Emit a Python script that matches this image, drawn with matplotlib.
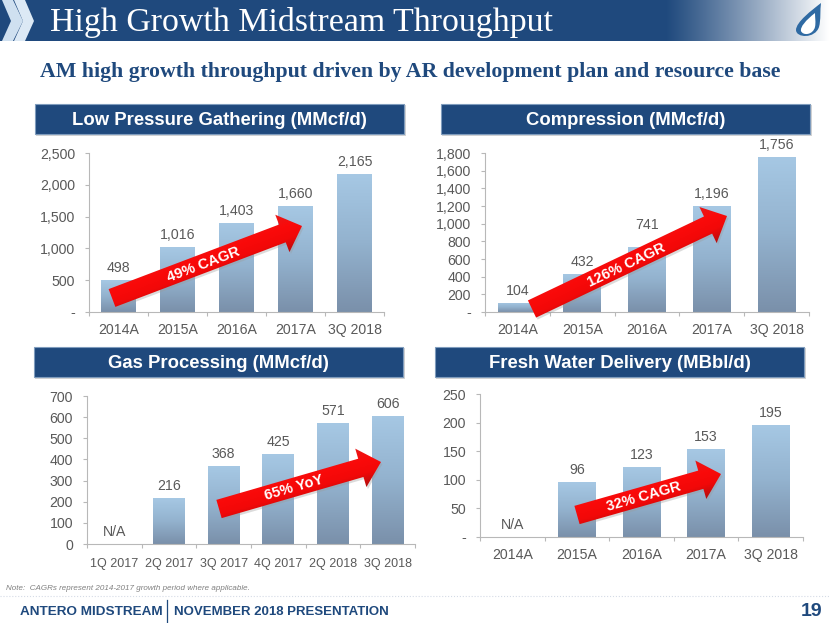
#slide with four small bar charts, header band, arrows and footer
import numpy as np
import matplotlib
matplotlib.use('Agg')
import matplotlib.pyplot as plt
from matplotlib.colors import LinearSegmentedColormap, to_rgb
from matplotlib.patches import Polygon, Rectangle, PathPatch
from matplotlib.path import Path

plt.rcParams['font.family'] = ['Liberation Sans', 'DejaVu Sans']

#the data, None means N/A
years = ['2014A', '2015A', '2016A', '2017A', '3Q 2018']
quarters = ['1Q 2017', '2Q 2017', '3Q 2017', '4Q 2017', '2Q 2018', '3Q 2018']
gathering = [498, 1016, 1403, 1660, 2165]
compression = [104, 432, 741, 1196, 1756]
processing = [None, 216, 368, 425, 571, 606]
fresh_water = [None, 96, 123, 153, 195]

gathering_ticks = [0, 500, 1000, 1500, 2000, 2500]
compression_ticks = [0, 200, 400, 600, 800, 1000, 1200, 1400, 1600, 1800]
processing_ticks = [0, 100, 200, 300, 400, 500, 600, 700]
water_ticks = [0, 50, 100, 150, 200, 250]

W, H = 830, 623
NAVY = '#1f497d'
GRAY = '#595959'
AXIS = '#b8b8b8'
bar_cmap = LinearSegmentedColormap.from_list('bar', ['#a6c8e4', '#93b2ce', '#7a90aa'])
red_cmap = LinearSegmentedColormap.from_list('red', ['#e81818', '#fa0a0a', '#f20808', '#b80d0d'])

fig = plt.figure(figsize=(W / 100, H / 100), dpi=100, facecolor='white')


def px_axes(left, top, right, bottom, z):
    return fig.add_axes([left / W, 1 - bottom / H, (right - left) / W, (bottom - top) / H], zorder=z)


#background layer in pixel coordinates, y goes down like in the picture
bg = px_axes(0, 0, W, H, 0)
bg.set_xlim(0, W)
bg.set_ylim(H, 0)
bg.axis('off')

#header band which fades to white on the right
fade = np.linspace(0, 1, 200) ** 1.1
navy = np.array(to_rgb(NAVY))
band = np.zeros((1, 200, 3))
for i in range(3):
    band[0, :, i] = navy[i] + (1 - navy[i]) * fade
bg.add_patch(Rectangle((0, 0), 665, 41, color=NAVY, lw=0))
bg.imshow(band, extent=(665, 828, 41, 0), aspect='auto')
bg.set_xlim(0, W)
bg.set_ylim(H, 0)

#chevrons on the left of the header
bg.add_patch(Polygon([(2, 0), (13, 0), (23, 21), (13, 41), (2, 41), (11, 21)], color='#cfe0f0', lw=0))
bg.add_patch(Polygon([(14, 0), (25, 0), (34, 21), (25, 41), (14, 41), (23, 21)], color='#dce9f5', lw=0))

#the flame logo
drop = [(821, 3), (812, 10), (796, 22), (796, 30), (796, 38), (815, 39), (819, 27), (821, 20), (820, 10), (821, 3)]
codes = [Path.MOVETO] + [Path.CURVE4] * 9
bg.add_patch(PathPatch(Path(drop, codes), fc='#2f6aa3', ec='none', zorder=2))
inner = [(815, 13), (806, 20), (800, 27), (801, 31), (803, 36), (813, 35), (815, 27), (816, 22), (815, 18), (815, 13)]
bg.add_patch(PathPatch(Path(inner, codes), fc='white', ec='none', zorder=3))

bg.text(50, 22, 'High Growth Midstream Throughput', color='white', fontsize=24.4,
        family=['Liberation Serif'], va='center', ha='left')
bg.text(40, 72, 'AM high growth throughput driven by AR development plan and resource base',
        color=NAVY, fontsize=15.7, fontweight='bold', family=['Liberation Serif'], va='center', ha='left')


def title_bar(x0, x1, y0, y1, label):
    bg.add_patch(Rectangle((x0 + 1, y0 + 1), x1 - x0 + 1, y1 - y0 + 1, color='#d4d4d4', lw=0))
    bg.add_patch(Rectangle((x0, y0), x1 - x0, y1 - y0, fc=NAVY, ec='#7f9cbd', lw=0.8))
    bg.text((x0 + x1) / 2, (y0 + y1) / 2 + 1.5, label, color='white', fontsize=13.3, fontweight='bold',
            va='center', ha='center')


title_bar(35, 404, 104, 134, 'Low Pressure Gathering (MMcf/d)')
title_bar(441, 810, 104, 134, 'Compression (MMcf/d)')
title_bar(34, 403, 347, 377, 'Gas Processing (MMcf/d)')
title_bar(435, 804, 347, 377, 'Fresh Water Delivery (MBbl/d)')

#footer
bg.text(6, 588, 'Note:  CAGRs represent 2014-2017 growth period where applicable.', color='#7f7f7f',
        fontsize=5.8, style='italic', va='center')
bg.plot([0, W], [596, 596], color='#d5dbe6', lw=0.8, ls=':')
bg.text(20, 612, 'ANTERO MIDSTREAM', color=NAVY, fontsize=9.7, fontweight='bold', va='center')
bg.plot([167, 167], [600, 622], color=NAVY, lw=0.9)
bg.text(174, 612, 'NOVEMBER 2018 PRESENTATION', color=NAVY, fontsize=9.5, fontweight='bold', va='center')
bg.text(822, 612, '19', color=NAVY, fontsize=14, fontweight='bold', va='center', ha='right')


def bar_chart(box, cats, values, ticks, xsize=10.2, xpad=8, bump=None):
    ax = px_axes(*box, 1)
    ax.patch.set_alpha(0)
    n = len(cats)
    heights = [0 if v is None else v for v in values]
    bars = ax.bar(range(n), heights, width=0.585, color='none', lw=0)
    ramp = np.linspace(0, 1, 128).reshape(-1, 1)
    for b in bars:
        if b.get_height() > 0:
            im = ax.imshow(ramp, cmap=bar_cmap, aspect='auto', vmin=0, vmax=1,
                           extent=(b.get_x(), b.get_x() + b.get_width(), 0, b.get_height()))
            im.set_clip_path(b)
    ax.set_xlim(-0.5, n - 0.5)
    ax.set_ylim(0, ticks[-1])

    #value labels sit a fixed distance above the bar
    for i, v in enumerate(values):
        up = 12 + (bump or {}).get(i, 0)
        text = 'N/A' if v is None else f'{v:,}'
        ax.annotate(text, (i, heights[i]), xytext=(0, up * 0.72), textcoords='offset points',
                    ha='center', va='center', fontsize=10.2, color=GRAY, annotation_clip=False)

    ax.set_yticks(ticks)
    ax.set_yticklabels(['-' if t == 0 and ticks[1] != 100 else f'{t:,}' for t in ticks])
    ax.set_xticks(range(n))
    ax.set_xticklabels(cats)
    ax.set_xticks(np.arange(-0.5, n), minor=True)
    ax.tick_params(axis='x', which='major', length=0, pad=xpad, labelsize=xsize, labelcolor=GRAY)
    ax.tick_params(axis='x', which='minor', length=3, color=AXIS, width=0.8)
    ax.tick_params(axis='y', length=3, color=AXIS, width=0.8, pad=7, labelsize=10.2, labelcolor=GRAY)
    for side in ['top', 'right']:
        ax.spines[side].set_visible(False)
    for side in ['left', 'bottom']:
        ax.spines[side].set_color(AXIS)
        ax.spines[side].set_linewidth(0.8)
    return ax


bar_chart((89, 153, 384, 312), years, gathering, gathering_ticks)
bar_chart((485, 153, 809, 312), years, compression, compression_ticks, bump={2: 10})
bar_chart((87, 396, 415, 544), quarters, processing, processing_ticks, xsize=9, xpad=10)
bar_chart((480, 394, 803, 537), years, fresh_water, water_ticks)

#top layer for the red arrows
top = px_axes(0, 0, W, H, 2)
top.patch.set_alpha(0)
top.axis('off')


def red_arrow(tail, tip, label, text_at):
    tail = np.array(tail, float)
    tip = np.array(tip, float)
    d = (tip - tail) / np.hypot(*(tip - tail))
    n = np.array([-d[1], d[0]])
    if n[1] < 0:
        n = -n
    neck = tip - d * 21
    pts = [tail - n * 9.5, neck - n * 9.5, neck - n * 20, tip, neck + n * 20, neck + n * 9.5, tail + n * 9.5]
    top.add_patch(Polygon(np.array(pts) + [1.5, 2], color='#9a9a9a', alpha=0.35, lw=0, zorder=1))
    arrow = Polygon(pts, closed=True, fc='none', ec='none', zorder=1)
    top.add_patch(arrow)
    xs = np.linspace(0, W, 415)
    ys = np.linspace(0, H, 312)
    gx, gy = np.meshgrid(xs, ys)
    t = ((gx - tail[0]) * n[0] + (gy - tail[1]) * n[1]) / 19 * 0.5 + 0.5
    im = top.imshow(np.clip(t, 0, 1), cmap=red_cmap, vmin=0, vmax=1, extent=(0, W, H, 0),
                    origin='upper', aspect='auto', zorder=2)
    im.set_clip_path(arrow)
    angle = np.degrees(np.arctan2(-d[1], d[0]))
    top.text(text_at[0], text_at[1], label, color='white', fontsize=10.5, fontweight='bold',
             rotation=angle, rotation_mode='anchor', ha='center', va='center', zorder=3)


red_arrow((112, 298), (302, 226), '49% CAGR', (203, 265))
red_arrow((532, 309), (727, 216), '126% CAGR', (626, 265))
red_arrow((219, 509), (381, 462), '65% YoY', (294, 488))
red_arrow((577, 515), (721, 474), '32% CAGR', (644, 497))
top.set_xlim(0, W)
top.set_ylim(H, 0)

fig.savefig('out.png', dpi=100)
